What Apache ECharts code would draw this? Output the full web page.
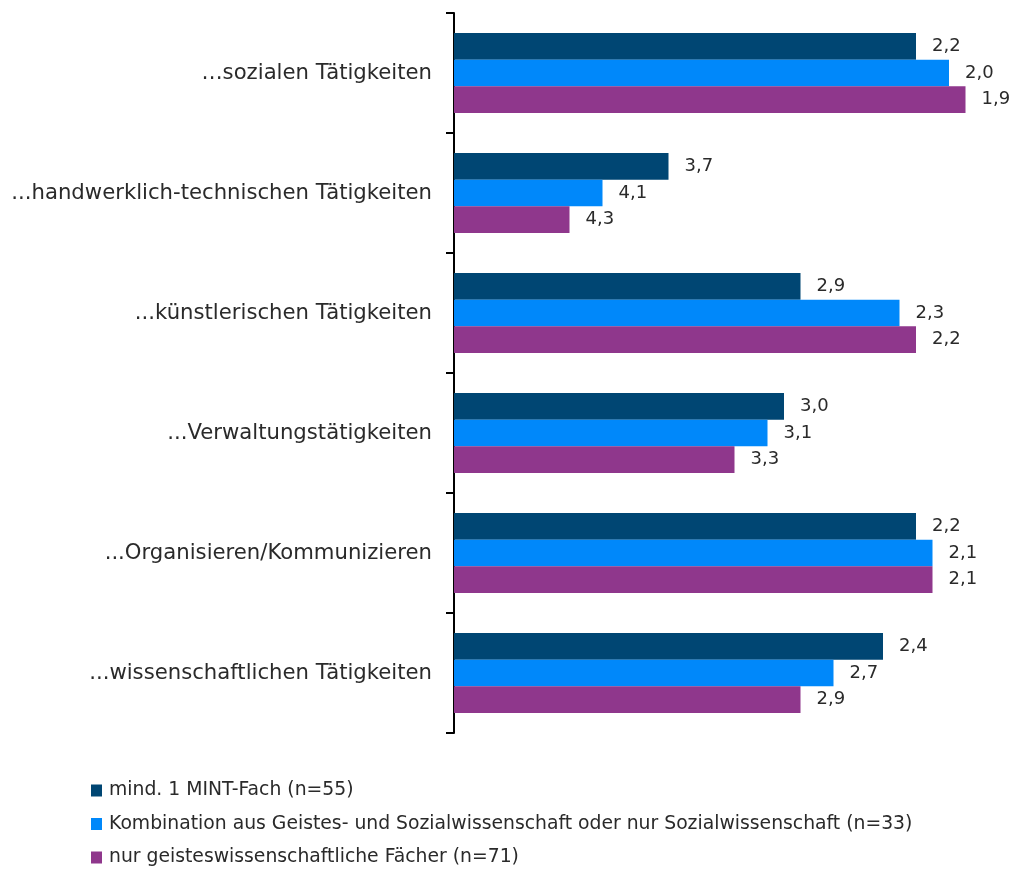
<!DOCTYPE html>
<html>
<head>
<meta charset="utf-8">
<script src="https://cdn.jsdelivr.net/npm/echarts@6/dist/echarts.min.js"></script>
<style>html,body{margin:0;padding:0;background:#fff}#c{width:1014px;height:869px}</style>
</head>
<body>
<div id="c"></div>
<script>
const categories = ['…sozialen Tätigkeiten', '...handwerklich-technischen Tätigkeiten', '...künstlerischen Tätigkeiten', '...Verwaltungstätigkeiten', '...Organisieren/Kommunizieren', '...wissenschaftlichen Tätigkeiten'];
const seriesNames = ['mind. 1 MINT-Fach (n=55)', 'Kombination aus Geistes- und Sozialwissenschaft oder nur Sozialwissenschaft (n=33)', 'nur geisteswissenschaftliche Fächer (n=71)'];
const mint = [2.2, 3.7, 2.9, 3.0, 2.2, 2.4];
const kombi = [2.0, 4.1, 2.3, 3.1, 2.1, 2.7];
const geist = [1.9, 4.3, 2.2, 3.3, 2.1, 2.9];
const scaleTop = 5; // bar length = scaleTop - value (lower value = longer bar)
const colors = ['#004673', '#0088FA', '#8F378C'];

const all = [mint, kombi, geist];
const chart = echarts.init(document.getElementById('c'));
const font = '"DejaVu Sans", Verdana, sans-serif';
chart.setOption({
  animation: false,
  textStyle: { fontFamily: font },
  grid: { left: 454, top: 13, width: 544.5, height: 720 },
  xAxis: { type: 'value', min: 0, max: 3.3, show: false, splitLine: { show: false } },
  yAxis: {
    type: 'category', data: categories, inverse: true,
    axisLine: { show: true, lineStyle: { color: '#000', width: 2 } },
    axisTick: { show: true, inside: false, length: 8, lineStyle: { color: '#000', width: 2 } },
    axisLabel: { margin: 22, fontSize: 21.2, color: '#2a2a2a', fontFamily: font }
  },
  legend: {
    orient: 'vertical', left: 91, top: 781, height: 200, padding: 0,
    itemWidth: 11, itemHeight: 12, itemGap: 14.5,
    icon: 'rect', data: seriesNames,
    textStyle: { fontSize: 18.8, color: '#2a2a2a', fontFamily: font, padding: [0, 0, 0, 2] }
  },
  series: all.map((arr, si) => ({
    name: seriesNames[si], type: 'bar',
    barWidth: 26.7, barGap: '0%',
    itemStyle: { color: colors[si] },
    data: arr.map(v => +(scaleTop - v).toFixed(2)),
    label: {
      show: true, position: 'right', distance: 16, fontSize: 18, color: '#2a2a2a', fontFamily: font,
      formatter: p => all[si][p.dataIndex].toFixed(1).replace('.', ',')
    }
  }))
});
</script>
</body>
</html>
